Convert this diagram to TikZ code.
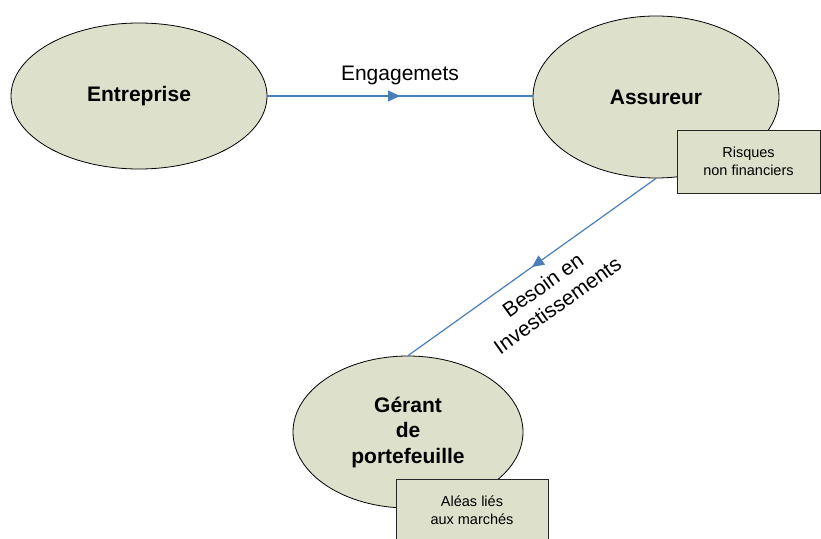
\documentclass[tikz,border=0pt]{standalone}
\usepackage{fontspec}
\setmainfont{Liberation Sans}
\usetikzlibrary{shapes.geometric,arrows.meta,decorations.markings}
\definecolor{fillc}{HTML}{DDE0CB}
\definecolor{linec}{HTML}{4A7EBB}
\tikzset{
  actor/.style={ellipse, draw=black, line width=0.8pt, fill=fillc, inner sep=0pt,
    align=center, font=\fontsize{21}{25.5}\selectfont\bfseries},
  riskbox/.style={rectangle, draw=black!85, line width=1pt, fill=fillc, align=center,
    font=\fontsize{14.5}{18}\selectfont, inner sep=0pt},
  flow/.style={draw=linec, line width=1.2pt, postaction={decorate},
    decoration={markings, mark=at position 0.5 with {\arrow{Triangle[length=12pt,width=11pt]}}}},
  lbl/.style={font=\fontsize{21}{25}\selectfont, align=center, inner sep=0pt}
}
\begin{document}
\begin{tikzpicture}[x=1pt,y=-1pt]
\useasboundingbox (0,0) rectangle (821,538);
\node[actor, minimum width=256pt, minimum height=146pt] (ent) at (139,96) {Entreprise};
\node[actor, minimum width=246pt, minimum height=162pt] (ass) at (656,97) {Assureur};
\node[actor, minimum width=230pt, minimum height=152pt] (ger) at (408,432) {Gérant\\de\\portefeuille};
\node[riskbox, minimum width=143pt, minimum height=63pt] (rnf) at (748.5,161.5) {Risques\\non financiers};
\node[riskbox, minimum width=152pt, minimum height=62pt] (alm) at (472,510) {Aléas liés\\aux marchés};
\draw[flow] (ent.east) -- (ent.east -| ass.west);
\node[lbl] (eng) at (400,75) {Engagemets};
\draw[flow] (ass.south) -- (ger.north);
\node[lbl, rotate=35.5] (bes) at (550,295) {Besoin en\\Investissements};
\end{tikzpicture}
\end{document}
